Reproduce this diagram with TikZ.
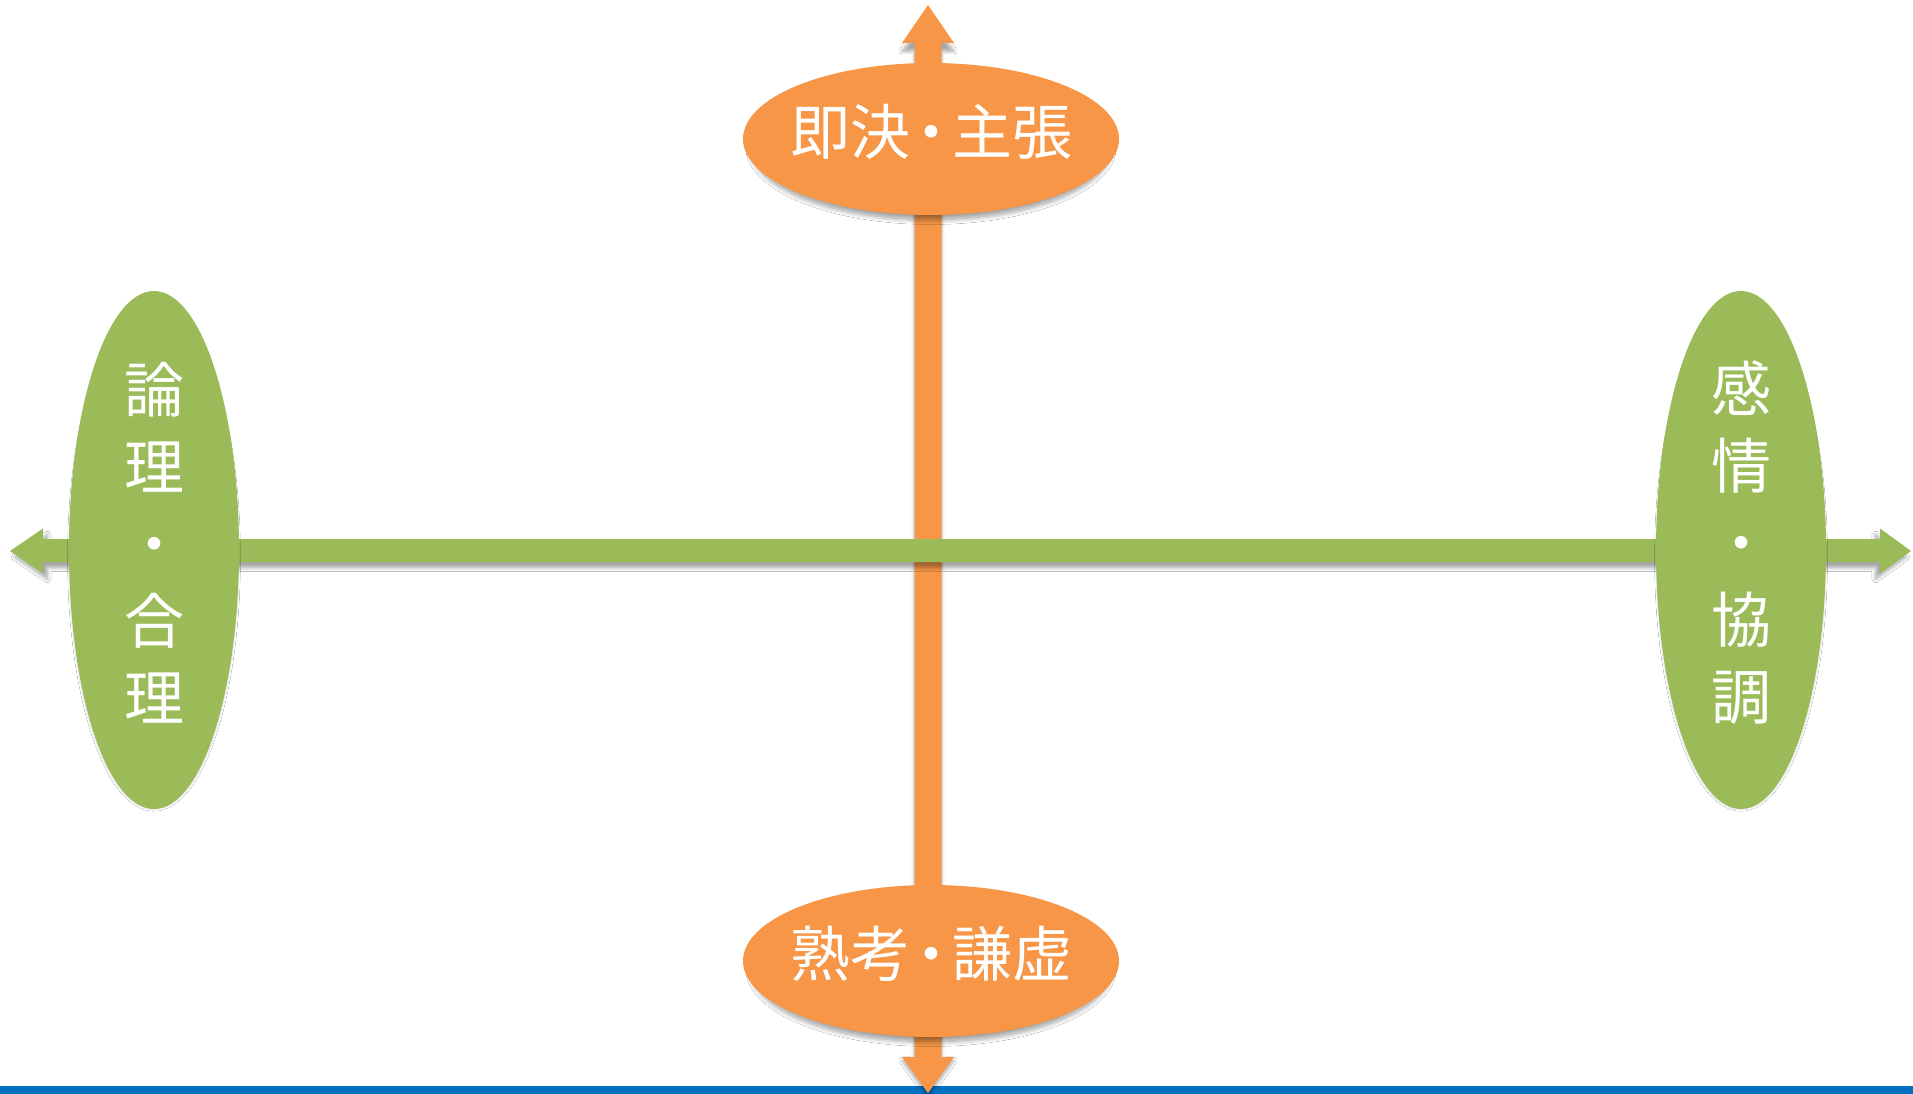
\documentclass[tikz,border=0pt]{standalone}
\usepackage{fontspec}
\newfontfamily\cjk{Noto Sans CJK JP}
\usetikzlibrary{shapes.geometric,shadows.blur}
\definecolor{orng}{HTML}{F79646}
\definecolor{grn}{HTML}{9BBB59}
\definecolor{blu}{HTML}{0070C0}
\newcommand{\mdot}{\kern-0.15em・\kern-0.15em}
\tikzset{
  shov/.style={blur shadow={shadow xshift=0pt, shadow yshift=-8pt, shadow scale=0.96, shadow blur radius=5pt, shadow blur steps=16, shadow opacity=40}},
  sharr/.style={blur shadow={shadow xshift=0pt, shadow yshift=-6pt, shadow scale=0.995, shadow blur radius=3.5pt, shadow blur steps=12, shadow opacity=35}},
  oval/.style={ellipse, inner sep=0pt, draw=none, shov},
  txt/.style={text=white, inner sep=0pt, font=\cjk\fontsize{60}{77}\selectfont},
  vtxt/.style={txt, align=center}
}
\begin{document}
\begin{tikzpicture}[x=1pt,y=-1pt]
\useasboundingbox (0,0) rectangle (1913,1094);
\fill[white] (0,0) rectangle (1913,1094);
% bottom blue line
\fill[blu] (0,1086) rectangle (1913,1094);
% named tips
\coordinate (vtop) at (928,5);
\coordinate (vbot) at (928,1093);
\coordinate (hleft) at (10,551);
\coordinate (hright) at (1911,551);
% vertical orange block arrow
\fill[orng, sharr] (vtop) -- (954,43) -- (941.5,43) -- (941.5,1057) -- (954,1057) -- (vbot)
  -- (902,1057) -- (914.5,1057) -- (914.5,43) -- (902,43) -- cycle;
% horizontal green block arrow
\fill[grn, sharr] (hleft) -- (43,528.5) -- (43,539) -- (1880,539) -- (1880,528.5) -- (hright)
  -- (1880,573.5) -- (1880,562) -- (43,562) -- (43,573.5) -- cycle;
% ellipses
\node[oval, fill=orng, minimum width=376pt, minimum height=152pt] (top) at (931,139) {};
\node[oval, fill=orng, minimum width=376pt, minimum height=152pt] (bot) at (931,961) {};
\node[oval, fill=grn, minimum width=170pt, minimum height=518pt] (left) at (154,550) {};
\node[oval, fill=grn, minimum width=170pt, minimum height=518pt] (right) at (1741,550) {};
% texts
\node[txt] (toptxt) at (931,132) {即決\mdot 主張};
\node[txt] (bottxt) at (931,954) {熟考\mdot 謙虚};
\node[vtxt] (lefttxt) at (154,543) {論\\理\\・\\合\\理};
\node[vtxt] (righttxt) at (1741,543) {感\\情\\・\\協\\調};
\end{tikzpicture}
\end{document}
